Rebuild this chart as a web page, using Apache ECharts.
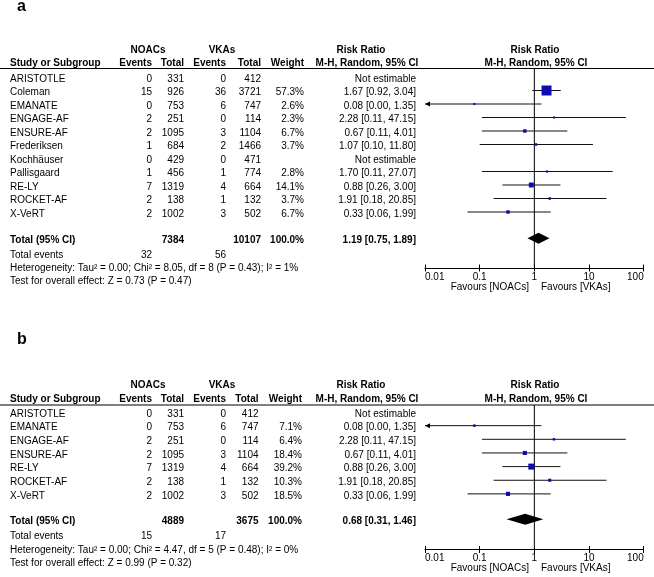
<!DOCTYPE html>
<html><head><meta charset="utf-8">
<script src="https://cdn.jsdelivr.net/npm/echarts@6/dist/echarts.min.js"></script>
<style>html,body{margin:0;padding:0;background:#fff}#c{width:654px;height:577px}</style>
</head><body><div id="c"></div>
<script>
// ---------- Panel a data ----------
const studiesA = ['ARISTOTLE','Coleman','EMANATE','ENGAGE-AF','ENSURE-AF','Frederiksen','Kochhäuser','Pallisgaard','RE-LY','ROCKET-AF','X-VeRT'];
const noacEventsA = [0,15,0,2,2,1,0,1,7,2,2];
const noacTotalA = [331,926,753,251,1095,684,429,456,1319,138,1002];
const vkaEventsA = [0,36,6,0,3,2,0,1,4,1,3];
const vkaTotalA = [412,3721,747,114,1104,1466,471,774,664,132,502];
const weightA = [null,57.3,2.6,2.3,6.7,3.7,null,2.8,14.1,3.7,6.7];
const rrA = [null,1.67,0.08,2.28,0.67,1.07,null,1.70,0.88,1.91,0.33];
const lowerA = [null,0.92,0.00,0.11,0.11,0.10,null,0.11,0.26,0.18,0.06];
const upperA = [null,3.04,1.35,47.15,4.01,11.80,null,27.07,3.00,20.85,1.99];
const pooledA = [1.19,0.75,1.89];
const grandTotalsA = [7384,10107];
const totalEventsA = [32,56];
const heterogeneityA = 'Heterogeneity: Tau² = 0.00; Chi² = 8.05, df = 8 (P = 0.43); I² = 1%';
const overallA = 'Test for overall effect: Z = 0.73 (P = 0.47)';

// ---------- Panel b data ----------
const studiesB = ['ARISTOTLE','EMANATE','ENGAGE-AF','ENSURE-AF','RE-LY','ROCKET-AF','X-VeRT'];
const noacEventsB = [0,0,2,2,7,2,2];
const noacTotalB = [331,753,251,1095,1319,138,1002];
const vkaEventsB = [0,6,0,3,4,1,3];
const vkaTotalB = [412,747,114,1104,664,132,502];
const weightB = [null,7.1,6.4,18.4,39.2,10.3,18.5];
const rrB = [null,0.08,2.28,0.67,0.88,1.91,0.33];
const lowerB = [null,0.00,0.11,0.11,0.26,0.18,0.06];
const upperB = [null,1.35,47.15,4.01,3.00,20.85,1.99];
const pooledB = [0.68,0.31,1.46];
const grandTotalsB = [4889,3675];
const totalEventsB = [15,17];
const heterogeneityB = 'Heterogeneity: Tau² = 0.00; Chi² = 4.47, df = 5 (P = 0.48); I² = 0%';
const overallB = 'Test for overall effect: Z = 0.99 (P = 0.32)';

const tickLabels = ['0.01','0.1','1','10','100'];
const AXIS_MIN = 0.01, AXIS_MAX = 100;

// ---------- layout ----------
const FONT = '"Liberation Sans", Arial, Helvetica, sans-serif';
const BLUE = '#0c0cb0';
const panels = [
  {letter:'a', letterY:6.5, hdr1Y:50, hdr2Y:63.5, lineY:68.5, axisY:268, row0Y:77, rowH:13.5, totalRow:11.95,
   evY:255.3, hetY:268.3, testY:281.7, favY:287.5, sizeK:1.32,
   col:{name:10, ne:152, nt:184, ve:226, vt:261, w:304, ci:416},
   studies:studiesA, ne:noacEventsA, nt:noacTotalA, ve:vkaEventsA, vt:vkaTotalA, w:weightA, rr:rrA, lo:lowerA, hi:upperA,
   pooled:pooledA, totals:grandTotalsA, events:totalEventsA, het:heterogeneityA, test:overallA},
  {letter:'b', letterY:339.5, hdr1Y:385.5, hdr2Y:399, lineY:405, axisY:549.5, row0Y:412, rowH:13.65, totalRow:7.86,
   evY:536, hetY:550, testY:563.3, favY:568, sizeK:0.96,
   col:{name:10, ne:152, nt:184, ve:226, vt:258.5, w:302, ci:416},
   studies:studiesB, ne:noacEventsB, nt:noacTotalB, ve:vkaEventsB, vt:vkaTotalB, w:weightB, rr:rrB, lo:lowerB, hi:upperB,
   pooled:pooledB, totals:grandTotalsB, events:totalEventsB, het:heterogeneityB, test:overallB}
];
const GRID_LEFT = 425, GRID_RIGHT = 10.3, TEXT_DY = 2;

function fmt2(v){ return v.toFixed(2); }
function ciText(r,l,h){ return fmt2(r)+' ['+fmt2(l)+', '+fmt2(h)+']'; }
function txt(text, x, y, align, bold, size){
  return {type:'text', x:x, y:y, silent:true,
    style:{text:String(text), fill:'#000', font:(bold?'bold ':'')+(size||10)+'px '+FONT, align:align||'left', verticalAlign:'middle'}};
}

const grids = [], xAxes = [], yAxes = [], series = [], graphics = [];
panels.forEach(function(P, p){
  const h = P.axisY - P.lineY;
  const yMin = -(P.row0Y - P.lineY)/P.rowH;
  const yMax = (P.axisY - P.row0Y)/P.rowH;
  // main grid (index 2p) and tick-overlay grid (index 2p+1) share the same box
  grids.push({left:GRID_LEFT, right:GRID_RIGHT, top:P.lineY, height:h, containLabel:false, outerBoundsMode:'none'});
  grids.push({left:GRID_LEFT, right:GRID_RIGHT, top:P.lineY, height:h, containLabel:false, outerBoundsMode:'none'});
  yAxes.push({gridIndex:2*p, type:'value', inverse:true, min:yMin, max:yMax, show:false, axisLine:{onZero:false}});
  yAxes.push({gridIndex:2*p+1, type:'value', inverse:true, min:yMin, max:yMax, show:false, axisLine:{onZero:false}});
  xAxes.push({gridIndex:2*p, type:'log', logBase:10, min:AXIS_MIN, max:AXIS_MAX, position:'bottom',
    axisLine:{show:true, onZero:false, lineStyle:{color:'#000', width:1}},
    axisTick:{show:true, length:3.5, lineStyle:{color:'#000', width:1}},
    axisLabel:{show:true, color:'#000', fontSize:10, fontFamily:FONT, margin:4,
      alignMinLabel:'left', alignMaxLabel:'right',
      formatter:function(v){ const m = tickLabels.find(function(t){return Math.abs(Math.log10(+t)-Math.log10(v))<1e-6;}); return m||''; }},
    splitLine:{show:false}, minorTick:{show:false}});
  xAxes.push({gridIndex:2*p+1, type:'log', logBase:10, min:AXIS_MIN, max:AXIS_MAX, position:'bottom',
    axisLine:{show:false, onZero:false}, axisLabel:{show:false}, splitLine:{show:false},
    axisTick:{show:true, inside:true, length:3.5, lineStyle:{color:'#000', width:1}}});

  const xi = 2*p, yi = 2*p;
  // reference line at RR = 1
  series.push({type:'custom', xAxisIndex:xi, yAxisIndex:yi, silent:true, clip:false, animation:false,
    data:[[1, yMin]],
    renderItem:function(params, api){
      const top = api.coord([1, yMin]); const bot = api.coord([1, yMax]);
      return {type:'line', shape:{x1:top[0], y1:top[1], x2:bot[0], y2:bot[1]}, style:{stroke:'#000', lineWidth:1}};
    }});

  // study rows
  series.push({type:'custom', xAxisIndex:xi, yAxisIndex:yi, silent:true, clip:false, animation:false,
    data:P.studies.map(function(s,i){ return [P.rr[i]==null?1:P.rr[i], i]; }),
    renderItem:function(params, api){
      const i = params.dataIndex;
      const yc = api.coord([1, i])[1];
      const ty = yc + TEXT_DY;
      const C = P.col;
      const kids = [
        txt(P.studies[i], C.name, ty, 'left'),
        txt(P.ne[i], C.ne, ty, 'right'),
        txt(P.nt[i], C.nt, ty, 'right'),
        txt(P.ve[i], C.ve, ty, 'right'),
        txt(P.vt[i], C.vt, ty, 'right')
      ];
      if (P.rr[i] == null) {
        kids.push(txt('Not estimable', C.ci, ty, 'right'));
      } else {
        kids.push(txt(P.w[i].toFixed(1)+'%', C.w, ty, 'right'));
        kids.push(txt(ciText(P.rr[i], P.lo[i], P.hi[i]), C.ci, ty, 'right'));
        const lo = Math.max(P.lo[i], AXIS_MIN), hi = Math.min(P.hi[i], AXIS_MAX);
        const x1 = api.coord([lo, i])[0], x2 = api.coord([hi, i])[0];
        kids.push({type:'line', shape:{x1:x1, y1:yc, x2:x2, y2:yc}, style:{stroke:'#111', lineWidth:1}});
        if (P.lo[i] < AXIS_MIN) {
          kids.push({type:'polygon', shape:{points:[[x1, yc],[x1+5, yc-2.5],[x1+5, yc+2.5]]}, style:{fill:'#000'}});
        }
        if (P.hi[i] > AXIS_MAX) {
          kids.push({type:'polygon', shape:{points:[[x2, yc],[x2-5, yc-2.5],[x2-5, yc+2.5]]}, style:{fill:'#000'}});
        }
        const xc = api.coord([P.rr[i], i])[0];
        const s = Math.max(2, P.sizeK*Math.sqrt(P.w[i]));
        kids.push({type:'rect', shape:{x:xc-s/2, y:yc-s/2, width:s, height:s}, style:{fill:BLUE}});
      }
      return {type:'group', children:kids};
    }});

  // pooled total row
  series.push({type:'custom', xAxisIndex:xi, yAxisIndex:yi, silent:true, clip:false, animation:false,
    data:[[P.pooled[0], P.totalRow]],
    renderItem:function(params, api){
      const row = api.value(1);
      const c = api.coord([P.pooled[0], row]);
      const xl = api.coord([P.pooled[1], row])[0], xr = api.coord([P.pooled[2], row])[0];
      const hh = 5.5, ty = c[1] + TEXT_DY, C = P.col;
      return {type:'group', children:[
        {type:'polygon', shape:{points:[[xl,c[1]],[c[0],c[1]-hh],[xr,c[1]],[c[0],c[1]+hh]]}, style:{fill:'#000'}},
        txt('Total (95% CI)', C.name, ty, 'left', true),
        txt(P.totals[0], C.nt, ty, 'right', true),
        txt(P.totals[1], C.vt, ty, 'right', true),
        txt('100.0%', C.w, ty, 'right', true),
        txt(ciText(P.pooled[0], P.pooled[1], P.pooled[2]), C.ci, ty, 'right', true)
      ]};
    }});

  // headers & footers
  const C = P.col;
  graphics.push(txt(P.letter, 17, P.letterY, 'left', true, 16));
  graphics.push(txt('NOACs', 148, P.hdr1Y, 'center', true));
  graphics.push(txt('VKAs', 222, P.hdr1Y, 'center', true));
  graphics.push(txt('Risk Ratio', 361, P.hdr1Y, 'center', true));
  graphics.push(txt('Risk Ratio', 535, P.hdr1Y, 'center', true));
  graphics.push(txt('Study or Subgroup', C.name, P.hdr2Y, 'left', true));
  graphics.push(txt('Events', C.ne, P.hdr2Y, 'right', true));
  graphics.push(txt('Total', C.nt, P.hdr2Y, 'right', true));
  graphics.push(txt('Events', C.ve, P.hdr2Y, 'right', true));
  graphics.push(txt('Total', C.vt, P.hdr2Y, 'right', true));
  graphics.push(txt('Weight', C.w, P.hdr2Y, 'right', true));
  graphics.push(txt('M-H, Random, 95% CI', 367, P.hdr2Y, 'center', true));
  graphics.push(txt('M-H, Random, 95% CI', 536, P.hdr2Y, 'center', true));
  graphics.push({type:'line', silent:true, shape:{x1:0, y1:P.lineY, x2:654, y2:P.lineY}, style:{stroke:'#000', lineWidth:1}});
  graphics.push(txt('Total events', C.name, P.evY, 'left'));
  graphics.push(txt(P.events[0], C.ne, P.evY, 'right'));
  graphics.push(txt(P.events[1], C.ve, P.evY, 'right'));
  graphics.push(txt(P.het, C.name, P.hetY, 'left'));
  graphics.push(txt(P.test, C.name, P.testY, 'left'));
  graphics.push(txt('Favours [NOACs]', 529, P.favY, 'right'));
  graphics.push(txt('Favours [VKAs]', 541, P.favY, 'left'));
});

const chart = echarts.init(document.getElementById('c'), null, {renderer:'canvas'});
chart.setOption({
  animation:false,
  backgroundColor:'#fff',
  grid:grids, xAxis:xAxes, yAxis:yAxes, series:series,
  graphic:{elements:graphics}
});
</script></body></html>
